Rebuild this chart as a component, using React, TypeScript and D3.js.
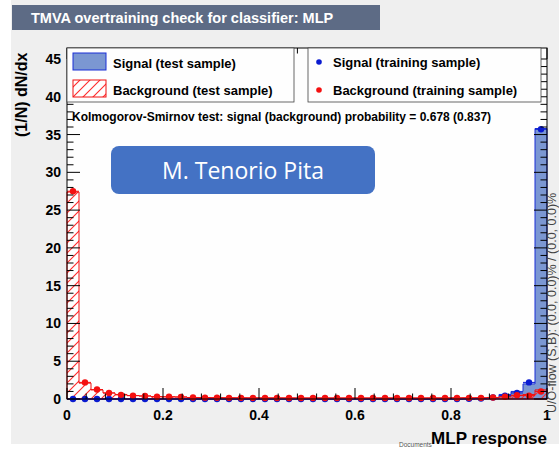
import React from "react";
import * as d3 from "d3";

// MLP response histograms: 40 bins over [0, 1]
const binEdges = d3.range(0, 41).map((i) => i / 40);
const sigTest = [
  0, 0, 0, 0, 0, 0, 0, 0, 0, 0, 0, 0, 0, 0, 0, 0, 0, 0, 0, 0,
  0, 0, 0, 0, 0, 0, 0, 0, 0, 0, 0, 0, 0, 0.02, 0.05, 0.15, 0.6, 1.0, 2.0, 35.8,
];
const bgTest = [
  27.4, 2.1, 1.2, 0.8, 0.6, 0.45, 0.4, 0.32, 0.28, 0.25, 0.2, 0.18, 0.17, 0.16, 0.15, 0.15, 0.14, 0.14, 0.14, 0.13,
  0.13, 0.13, 0.13, 0.13, 0.13, 0.13, 0.13, 0.13, 0.13, 0.13, 0.14, 0.14, 0.15, 0.15, 0.16, 0.2, 0.3, 0.45, 0.6, 1.2,
];
const sigTrain = [
  0, 0, 0, 0, 0, 0, 0, 0, 0, 0, 0, 0, 0, 0, 0, 0, 0, 0, 0, 0,
  0, 0, 0, 0, 0, 0, 0, 0, 0, 0, 0, 0, 0, 0.02, 0.05, 0.2, 0.45, 0.8, 2.2, 35.7,
];
const bgTrain = [
  27.5, 2.2, 1.25, 0.8, 0.55, 0.45, 0.4, 0.3, 0.3, 0.28, 0.2, 0.18, 0.16, 0.15, 0.15, 0.14, 0.14, 0.14, 0.13, 0.13,
  0.13, 0.13, 0.13, 0.13, 0.13, 0.13, 0.13, 0.13, 0.13, 0.13, 0.13, 0.13, 0.14, 0.15, 0.15, 0.2, 0.3, 0.5, 0.45, 1.0,
];
const xTicks = [0, 0.2, 0.4, 0.6, 0.8, 1];
const yTicks = [0, 5, 10, 15, 20, 25, 30, 35, 40, 45];

const W = 559;
const H = 449;
const left = 67;
const right = 547;
const top = 48;
const bottom = 399;

const x = d3.scaleLinear().domain([0, 1]).range([left, right]);
const y = d3.scaleLinear().domain([0, 45]).range([bottom, bottom - 340]);

const FONT = "'Liberation Sans', Arial, Helvetica, sans-serif";
const SIG_FILL = "#7b97d2";
const SIG_LINE = "#1a2fd6";
const BG_LINE = "#f01010";

function stepPath(vals: number[]): string {
  const pts: [number, number][] = [[x(0), y(0)]];
  vals.forEach((v, i) => {
    pts.push([x(binEdges[i]), y(v)]);
    pts.push([x(binEdges[i + 1]), y(v)]);
  });
  pts.push([x(1), y(0)]);
  return (d3.line()(pts) || "") + "Z";
}

function Points({ vals, color }: { vals: number[]; color: string }) {
  return (
    <g>
      {vals.map((v, i) => {
        const cx = (x(binEdges[i]) + x(binEdges[i + 1])) / 2;
        const cy = y(v);
        return (
          <g key={i}>
            <line x1={x(binEdges[i])} x2={x(binEdges[i + 1])} y1={cy} y2={cy} stroke={color} strokeWidth={1} />
            <circle cx={cx} cy={cy} r={3.2} fill={color} />
          </g>
        );
      })}
    </g>
  );
}

export default function App() {
  const yMinor = d3.range(0, 46, 1);
  const xMinor = d3.range(0, 1.0001, 0.04);
  return (
    <svg width={W} height={H} style={{ position: "absolute", left: 0, top: 0 }} fontFamily={FONT}>
      <defs>
        <pattern id="hatch" patternUnits="userSpaceOnUse" width={10} height={10}>
          <path d="M-1,11 L11,-1 M-3,3 L3,-3 M7,13 L13,7" stroke="#ff2a2a" strokeWidth={1.1} fill="none" />
        </pattern>
      </defs>
      <rect x={0} y={0} width={W} height={H} fill="#ffffff" />
      <rect x={11} y={0} width={W - 11} height={444} fill="#efefef" />

      {/* title bar */}
      <rect x={12} y={5} width={368} height={25} fill="#5d6b85" />
      <text x={31} y={23} fill="#ffffff" fontWeight="bold" fontSize={14.5}>
        TMVA overtraining check for classifier: MLP
      </text>

      {/* plot frame background */}
      <rect x={left} y={top} width={right - left} height={bottom - top} fill="#fefefe" />

      {/* histograms */}
      <path d={stepPath(sigTest)} fill={SIG_FILL} stroke={SIG_LINE} strokeWidth={1} />
      <path d={stepPath(bgTest)} fill="url(#hatch)" stroke={BG_LINE} strokeWidth={1} />

      {/* training points */}
      <Points vals={sigTrain} color="#0a1bd0" />
      <Points vals={bgTrain} color="#f41010" />

      {/* axes ticks */}
      <g stroke="#000" strokeWidth={1}>
        {yMinor.map((v) => {
          const len = v % 5 === 0 ? 13 : 6.5;
          return (
            <g key={"y" + v}>
              <line x1={left} x2={left + len} y1={y(v)} y2={y(v)} />
              <line x1={right} x2={right - len} y1={y(v)} y2={y(v)} />
            </g>
          );
        })}
        {xMinor.map((v, i) => {
          const len = i % 5 === 0 ? 11 : 5.5;
          return (
            <g key={"x" + i}>
              <line x1={x(v)} x2={x(v)} y1={bottom} y2={bottom - len} />
              <line x1={x(v)} x2={x(v)} y1={top} y2={top + len} />
            </g>
          );
        })}
      </g>
      <rect x={left} y={top} width={right - left} height={bottom - top} fill="none" stroke="#000" strokeWidth={1} />

      {/* tick labels */}
      {yTicks.map((v) => (
        <text key={"yl" + v} x={61} y={y(v) + 5} textAnchor="end" fontWeight="bold" fontSize={14}>
          {v}
        </text>
      ))}
      {xTicks.map((v) => (
        <text key={"xl" + v} x={x(v)} y={420} textAnchor="middle" fontWeight="bold" fontSize={14}>
          {d3.format("")(v)}
        </text>
      ))}

      {/* axis titles */}
      <text transform="translate(27,137) rotate(-90)" fontWeight="bold" fontSize={16}>
        (1/N) dN/dx
      </text>
      <text x={547} y={444} textAnchor="end" fontWeight="bold" fontSize={17}>
        MLP response
      </text>
      <text x={399} y={447} fontSize={6.5} fill="#555">Documents</text>
      <text transform="translate(556,413) rotate(-90)" fontSize={12.5} fill="#444">
        U/O-flow (S,B): (0.0, 0.0)% / (0.0, 0.0)%
      </text>

      {/* legends */}
      <rect x={67} y={48} width={227} height={54} fill="#fefefe" stroke="#444" strokeWidth={0.8} />
      <rect x={73} y={53} width={33} height={17} fill={SIG_FILL} stroke={SIG_LINE} strokeWidth={1} />
      <text x={113} y={68} fontWeight="bold" fontSize={13}>Signal (test sample)</text>
      <rect x={73} y={80} width={33} height={17} fill="url(#hatch)" stroke={BG_LINE} strokeWidth={1} />
      <text x={113} y={95} fontWeight="bold" fontSize={13}>Background (test sample)</text>

      <rect x={308} y={48} width={233} height={54} fill="#fefefe" stroke="#444" strokeWidth={0.8} />
      <circle cx={319} cy={62} r={2.8} fill="#0a1bd0" />
      <text x={333} y={67} fontWeight="bold" fontSize={13}>Signal (training sample)</text>
      <circle cx={319} cy={90} r={2.8} fill="#f41010" />
      <text x={333} y={95} fontWeight="bold" fontSize={13}>Background (training sample)</text>

      <text x={72} y={121} fontWeight="bold" fontSize={12}>
        Kolmogorov-Smirnov test: signal (background) probability = 0.678 (0.837)
      </text>

      {/* author label */}
      <rect x={111} y={146} width={264} height={48} rx={8} fill="#4472c4" />
      <text x={243} y={179} textAnchor="middle" fill="#ffffff" fontSize={23} fontFamily="'Open Sans', 'Noto Sans', sans-serif">
        M. Tenorio Pita
      </text>
    </svg>
  );
}
